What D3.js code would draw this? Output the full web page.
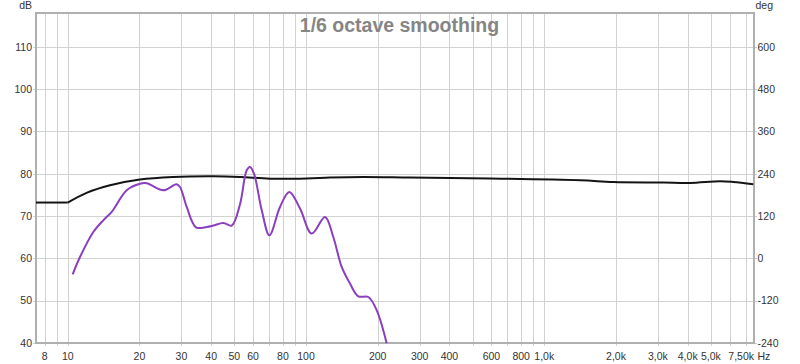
<!DOCTYPE html>
<html>
<head>
<meta charset="utf-8">
<script src="https://cdn.jsdelivr.net/npm/d3@7"></script>
<style>
  html, body { margin: 0; padding: 0; background: #fff; }
  svg { display: block; font-family: "Liberation Sans", Arial, sans-serif; }
</style>
</head>
<body>
<svg id="chart" width="800" height="364"></svg>
<script>
// ---- data ----
const title = "1/6 octave smoothing";

const blackFlatFreq = [7.36, 10.0];
const blackFlatSPL  = [73.2, 73.2];
const blackFreq = [10.0, 12.0, 15.05, 20.1, 27.7, 40.8, 52.9, 70.6, 100.7, 126.1, 174, 273, 592, 1413, 1949, 3158, 4091, 5465, 6214, 7540];
const blackSPL  = [73.2, 75.5, 77.3, 78.65, 79.24, 79.4, 79.24, 78.85, 78.9, 79.1, 79.24, 79.1, 78.87, 78.46, 78.06, 77.92, 77.82, 78.23, 78.06, 77.52];

const purpleFreq = [10.49, 11.26, 12.81, 14.1, 15.3, 17.68, 20.11, 21.46, 25.19, 28.62, 29.6, 31.58, 34.55, 38.31, 40.84, 44.98, 48.78, 52.86, 56.39, 58.22, 60.5, 65.2, 70.2, 77.8, 85.1, 94.4, 105.7, 120.2, 130.2, 141.2, 153.0, 165.8, 182.6, 198.1, 218.1];
const purpleSPL  = [56.24, 60.33, 66.24, 69.0, 70.97, 76.1, 77.64, 77.75, 76.1, 77.52, 76.88, 72.15, 67.35, 67.42, 67.75, 68.37, 67.75, 72.79, 80.83, 81.6, 80.05, 71.37, 65.46, 72.15, 75.7, 71.77, 65.86, 69.79, 65.06, 57.97, 54.04, 51.04, 50.87, 47.73, 39.93];

const yTicks = [40, 50, 60, 70, 80, 90, 100, 110];
const degTicks = [-240, -120, 0, 120, 240, 360, 480, 600];
const xGrid = [8, 9, 10, 20, 30, 40, 50, 60, 70, 80, 90, 100, 200, 300, 400, 500, 600, 700, 800, 900, 1000, 2000, 3000, 4000, 5000, 6000, 7000];
const xTickVals = [8, 10, 20, 30, 40, 50, 60, 80, 100, 200, 300, 400, 600, 800, 1000, 2000, 3000, 4000, 5000];
const xTickLabels = ["8", "10", "20", "30", "40", "50", "60", "80", "100", "200", "300", "400", "600", "800", "1,0k", "2,0k", "3,0k", "4,0k", "5,0k"];
const xEndLabel = "7,50k";

// ---- layout ----
const L = 36, R = 754, T = 13, B = 343;
const svg = d3.select("#chart");

const x = d3.scaleLog().domain([7.36, 7590]).range([L, R]);
const y = d3.scaleLinear().domain([40, 118]).range([B, T]);
const yDeg = d3.scaleLinear().domain([-240, 696]).range([B, T]);

// grid
const grid = svg.append("g");
grid.selectAll("line.v").data(xGrid).join("line")
  .attr("x1", d => Math.round(x(d)) + 0.5).attr("x2", d => Math.round(x(d)) + 0.5)
  .attr("y1", T).attr("y2", B + 3)
  .attr("stroke", "#d2d2d2").attr("stroke-width", 1);
grid.selectAll("line.h").data(yTicks).join("line")
  .attr("x1", L - 3).attr("x2", R)
  .attr("y1", d => Math.round(y(d)) + 0.5).attr("y2", d => Math.round(y(d)) + 0.5)
  .attr("stroke", "#d2d2d2").attr("stroke-width", 1);
grid.selectAll("line.hr").data(degTicks).join("line")
  .attr("x1", R).attr("x2", R + 3)
  .attr("y1", d => Math.round(yDeg(d)) + 0.5).attr("y2", d => Math.round(yDeg(d)) + 0.5)
  .attr("stroke", "#c8c8c8").attr("stroke-width", 1);

// title
svg.append("text")
  .attr("x", 399.5).attr("y", 31.5)
  .attr("text-anchor", "middle")
  .attr("font-size", "19.5px").attr("font-weight", "bold")
  .attr("fill", "#858585")
  .text(title);

// frame
svg.append("rect")
  .attr("x", L).attr("y", T).attr("width", R - L).attr("height", B - T)
  .attr("fill", "none").attr("stroke", "#b0b0b0").attr("stroke-width", 2);

// curves
const lineLinear = d3.line().x(d => x(d[0])).y(d => y(d[1]));
const lineSmooth = d3.line().x(d => x(d[0])).y(d => y(d[1])).curve(d3.curveCatmullRom.alpha(0.5));

svg.append("path")
  .datum(blackFlatFreq.map((f, i) => [f, blackFlatSPL[i]]))
  .attr("d", lineLinear)
  .attr("fill", "none").attr("stroke", "#141414").attr("stroke-width", 2);
svg.append("path")
  .datum(blackFreq.map((f, i) => [f, blackSPL[i]]))
  .attr("d", lineSmooth)
  .attr("fill", "none").attr("stroke", "#141414").attr("stroke-width", 2);

svg.append("path")
  .datum(purpleFreq.map((f, i) => [f, purpleSPL[i]]))
  .attr("d", lineSmooth)
  .attr("fill", "none").attr("stroke", "#8a3fbe").attr("stroke-width", 2);

// axes labels
const lab = svg.append("g").attr("font-size", "10.5px").attr("fill", "#333");
lab.selectAll("text.y").data(yTicks).join("text")
  .attr("x", 32).attr("y", d => y(d) + 3.8)
  .attr("text-anchor", "end").text(d => d);
lab.selectAll("text.d").data(degTicks).join("text")
  .attr("x", 757.5).attr("y", d => yDeg(d) + 3.8)
  .attr("text-anchor", "start").text(d => d);
lab.selectAll("text.x").data(xTickVals).join("text")
  .attr("x", d => x(d)).attr("y", 359.5)
  .attr("text-anchor", "middle").text((d, i) => xTickLabels[i]);
lab.append("text").attr("x", R).attr("y", 359.5).attr("text-anchor", "end").text(xEndLabel);
lab.append("text").attr("x", 757.5).attr("y", 359.5).attr("text-anchor", "start").text("Hz");
lab.append("text").attr("x", 32).attr("y", 9).attr("text-anchor", "end").text("dB");
lab.append("text").attr("x", 755.5).attr("y", 9).attr("text-anchor", "start").text("deg");
</script>
</body>
</html>
